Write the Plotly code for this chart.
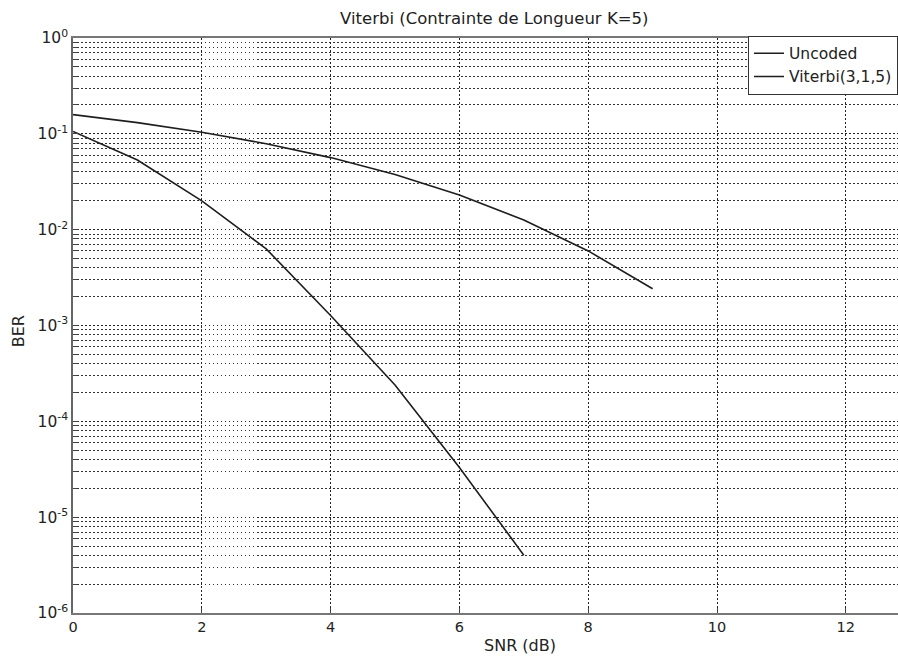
import plotly.graph_objects as go

# SNR points (dB) and measured bit error rates
snr_uncoded = [0, 1, 2, 3, 4, 5, 6, 7, 8, 9]
ber_uncoded = [0.1587, 0.1309, 0.1040, 0.0789, 0.0565, 0.0377, 0.0230, 0.0126, 0.0060, 0.00242]

snr_viterbi = [0, 1, 2, 3, 4, 5, 6, 7]
ber_viterbi = [0.106, 0.0533, 0.020, 0.0063, 0.00127, 0.00024, 0.000033, 0.000004]

series_names = ["Uncoded", "Viterbi(3,1,5)"]

x_ticks = [0, 2, 4, 6, 8, 10, 12]
y_decades = [-6, -5, -4, -3, -2, -1, 0]

FONT = "DejaVu Sans, Verdana, sans-serif"
INK = "#1e1e1e"
GRID_DASH = "1.5px,2.5px"

fig = go.Figure()
fig.add_trace(go.Scatter(x=snr_uncoded, y=ber_uncoded, mode="lines", name=series_names[0],
                         line=dict(color=INK, width=1.6)))
fig.add_trace(go.Scatter(x=snr_viterbi, y=ber_viterbi, mode="lines", name=series_names[1],
                         line=dict(color=INK, width=1.6)))

y_major = [10.0 ** d for d in y_decades]
y_major_text = ["10<sup>%d</sup>" % d for d in y_decades]
y_minor = [m * 10.0 ** d for d in y_decades[:-1] for m in range(2, 10)]

fig.update_layout(
    width=898, height=656,
    margin=dict(l=73, r=0, t=38, b=43),
    paper_bgcolor="white", plot_bgcolor="white",
    font=dict(family=FONT, size=14, color="#222"),
    showlegend=True,
    legend=dict(x=1, y=1.004, xanchor="right", yanchor="top",
                bgcolor="white", bordercolor="#333", borderwidth=1,
                font=dict(family=FONT, size=15.5, color="#222"),
                itemwidth=30, tracegroupgap=0),
    xaxis=dict(range=[0, 12.81], tickmode="array", tickvals=x_ticks,
               ticktext=[str(v) for v in x_ticks],
               showgrid=True, gridcolor="#222", griddash=GRID_DASH, gridwidth=1,
               ticks="inside", ticklen=5, tickcolor="#444",
               showline=True, linecolor="#777", linewidth=1.5, mirror=True,
               zeroline=False, tickfont=dict(size=14.5)),
    yaxis=dict(type="log", range=[-6, 0], tickmode="array", tickvals=y_major,
               ticktext=y_major_text,
               showgrid=True, gridcolor="#222", griddash=GRID_DASH, gridwidth=1,
               ticks="inside", ticklen=5, tickcolor="#444",
               minor=dict(tickmode="array", tickvals=y_minor, showgrid=True,
                          gridcolor="#333", griddash=GRID_DASH, gridwidth=1,
                          ticks="inside", ticklen=4, tickcolor="#444"),
               showline=True, linecolor="#666", linewidth=1.5, mirror=False,
               zeroline=False, tickfont=dict(size=15.5)),
)

fig.add_annotation(text="Viterbi (Contrainte de Longueur K=5)", xref="paper", yref="paper",
                   x=0.51, y=1.0, yshift=8, yanchor="bottom", showarrow=False,
                   font=dict(family=FONT, size=16.5, color="#222"))
fig.add_annotation(text="SNR (dB)", xref="paper", yref="paper",
                   x=0.542, y=0, yshift=-21, yanchor="top", showarrow=False,
                   font=dict(family=FONT, size=16, color="#222"))
fig.add_annotation(text="BER", xref="paper", yref="paper", textangle=-90,
                   x=0, xshift=-55, y=0.49, xanchor="center", showarrow=False,
                   font=dict(family=FONT, size=16, color="#222"))

fig.write_html("out.html")
